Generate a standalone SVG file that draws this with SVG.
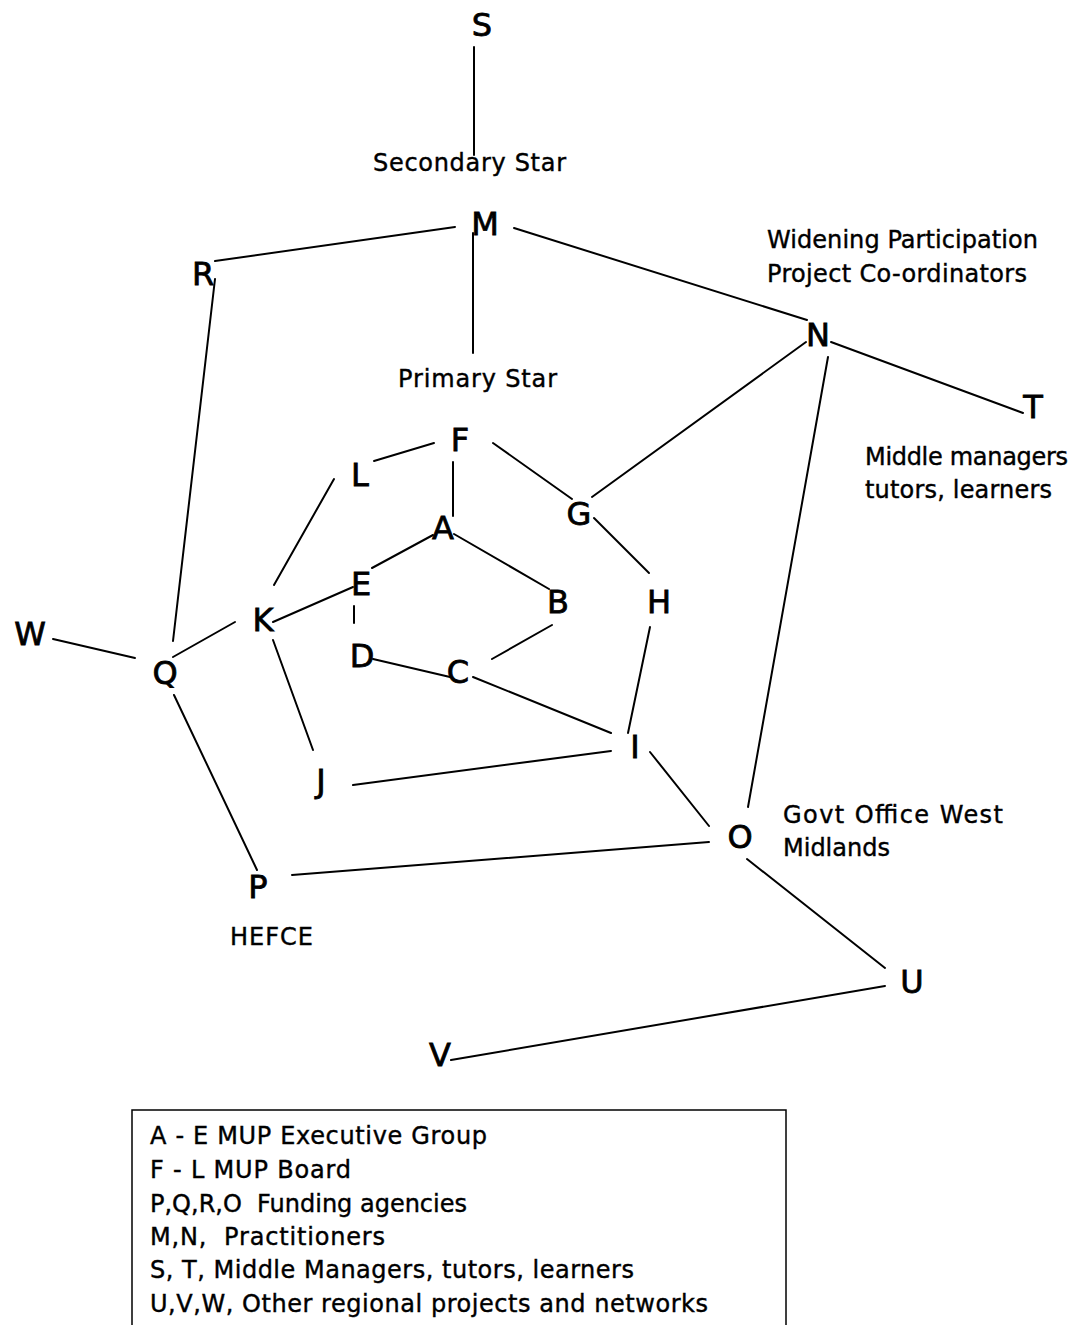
<svg xmlns="http://www.w3.org/2000/svg" width="1071" height="1325" viewBox="0 0 1071 1325">
<style>
.n{font-family:"DejaVu Sans","Liberation Sans",sans-serif;font-size:32px;fill:#000;stroke:#000;stroke-width:0.8;text-anchor:middle}
.l{font-family:"DejaVu Sans","Liberation Sans",sans-serif;font-size:24px;fill:#000;stroke:#000;stroke-width:0.4}
.g{font-family:"DejaVu Sans","Liberation Sans",sans-serif;font-size:24px;fill:#000;stroke:#000;stroke-width:0.4}
.e line{stroke:#000;stroke-width:2;stroke-linecap:round}
</style>
<rect width="1071" height="1325" fill="#fff"/>
<g id="connectors" class="e">
<line x1="474" y1="47" x2="474" y2="155"/>
<line x1="455" y1="227" x2="215" y2="261"/>
<line x1="473" y1="233" x2="473" y2="353"/>
<line x1="514" y1="228" x2="807" y2="320"/>
<line x1="215" y1="279" x2="173" y2="641"/>
<line x1="831" y1="342" x2="1023" y2="413"/>
<line x1="806" y1="342" x2="592" y2="497"/>
<line x1="828" y1="357" x2="748" y2="807"/>
<line x1="434" y1="443" x2="374" y2="461"/>
<line x1="453" y1="462" x2="453" y2="516"/>
<line x1="493" y1="443" x2="572" y2="499"/>
<line x1="334" y1="479" x2="274" y2="585"/>
<line x1="433" y1="535" x2="372" y2="568"/>
<line x1="454" y1="534" x2="549" y2="589"/>
<line x1="353" y1="587" x2="273" y2="622"/>
<line x1="354" y1="606" x2="354" y2="623"/>
<line x1="373" y1="659" x2="450" y2="677"/>
<line x1="492" y1="659" x2="552" y2="625"/>
<line x1="473" y1="677" x2="611" y2="733"/>
<line x1="594" y1="518" x2="649" y2="573"/>
<line x1="650" y1="627" x2="628" y2="733"/>
<line x1="273" y1="640" x2="313" y2="750"/>
<line x1="235" y1="622" x2="173" y2="657"/>
<line x1="53" y1="639" x2="135" y2="658"/>
<line x1="174" y1="695" x2="257" y2="870"/>
<line x1="353" y1="785" x2="611" y2="751"/>
<line x1="650" y1="752" x2="709" y2="826"/>
<line x1="292" y1="875" x2="709" y2="842"/>
<line x1="747" y1="859" x2="885" y2="968"/>
<line x1="885" y1="986" x2="451" y2="1060"/>
</g>
<g id="node-S"><text class="n" x="482" y="36">S</text></g>
<g id="label-secondary"><text class="l" x="373" y="171" textLength="193">Secondary Star</text></g>
<g id="node-M"><text class="n" x="485" y="235">M</text></g>
<g id="node-R"><text class="n" x="203" y="285">R</text></g>
<g id="label-primary"><text class="l" x="398" y="387" textLength="159">Primary Star</text></g>
<g id="node-N"><text class="n" x="818" y="346">N</text></g>
<g id="label-N"><text class="l" x="767" y="248" textLength="271">Widening Participation</text><text class="l" x="767" y="282" textLength="260">Project Co-ordinators</text></g>
<g id="node-T"><text class="n" x="1033" y="418">T</text></g>
<g id="label-T"><text class="l" x="865" y="465" textLength="203">Middle managers</text><text class="l" x="865" y="498" textLength="187">tutors, learners</text></g>
<g id="node-F"><text class="n" x="460" y="451">F</text></g>
<g id="node-L"><text class="n" x="360" y="486">L</text></g>
<g id="node-A"><text class="n" x="443" y="539">A</text></g>
<g id="node-G"><text class="n" x="579" y="525">G</text></g>
<g id="node-E"><text class="n" x="361" y="595">E</text></g>
<g id="node-B"><text class="n" x="558" y="613">B</text></g>
<g id="node-H"><text class="n" x="659" y="613">H</text></g>
<g id="node-K"><text class="n" x="263" y="631">K</text></g>
<g id="node-W"><text class="n" x="30" y="645">W</text></g>
<g id="node-D"><text class="n" x="362" y="667">D</text></g>
<g id="node-C"><text class="n" x="458" y="683">C</text></g>
<g id="node-Q"><text class="n" x="165" y="684">Q</text></g>
<g id="node-I"><text class="n" x="635" y="758">I</text></g>
<g id="node-J"><text class="n" x="321" y="792">J</text></g>
<g id="node-O"><text class="n" x="740" y="848">O</text></g>
<g id="label-O"><text class="l" x="783" y="823" textLength="220">Govt Office West</text><text class="l" x="783" y="856">Midlands</text></g>
<g id="node-P"><text class="n" x="258" y="898">P</text></g>
<g id="label-P"><text class="l" x="230" y="945" textLength="83">HEFCE</text></g>
<g id="node-U"><text class="n" x="912" y="993">U</text></g>
<g id="node-V"><text class="n" x="440" y="1066">V</text></g>
<g id="legend">
<rect x="132" y="1110" width="654" height="240" fill="none" stroke="#000" stroke-width="1.5"/>
<text class="g" x="150" y="1144" textLength="337">A - E MUP Executive Group</text>
<text class="g" x="150" y="1178" textLength="201">F - L MUP Board</text>
<text class="g" x="150" y="1212" textLength="317" xml:space="preserve">P,Q,R,O  Funding agencies</text>
<text class="g" x="150" y="1245" textLength="235" xml:space="preserve">M,N,  Practitioners</text>
<text class="g" x="150" y="1278" textLength="484">S, T, Middle Managers, tutors, learners</text>
<text class="g" x="150" y="1312" textLength="558">U,V,W, Other regional projects and networks</text>
</g>
</svg>
